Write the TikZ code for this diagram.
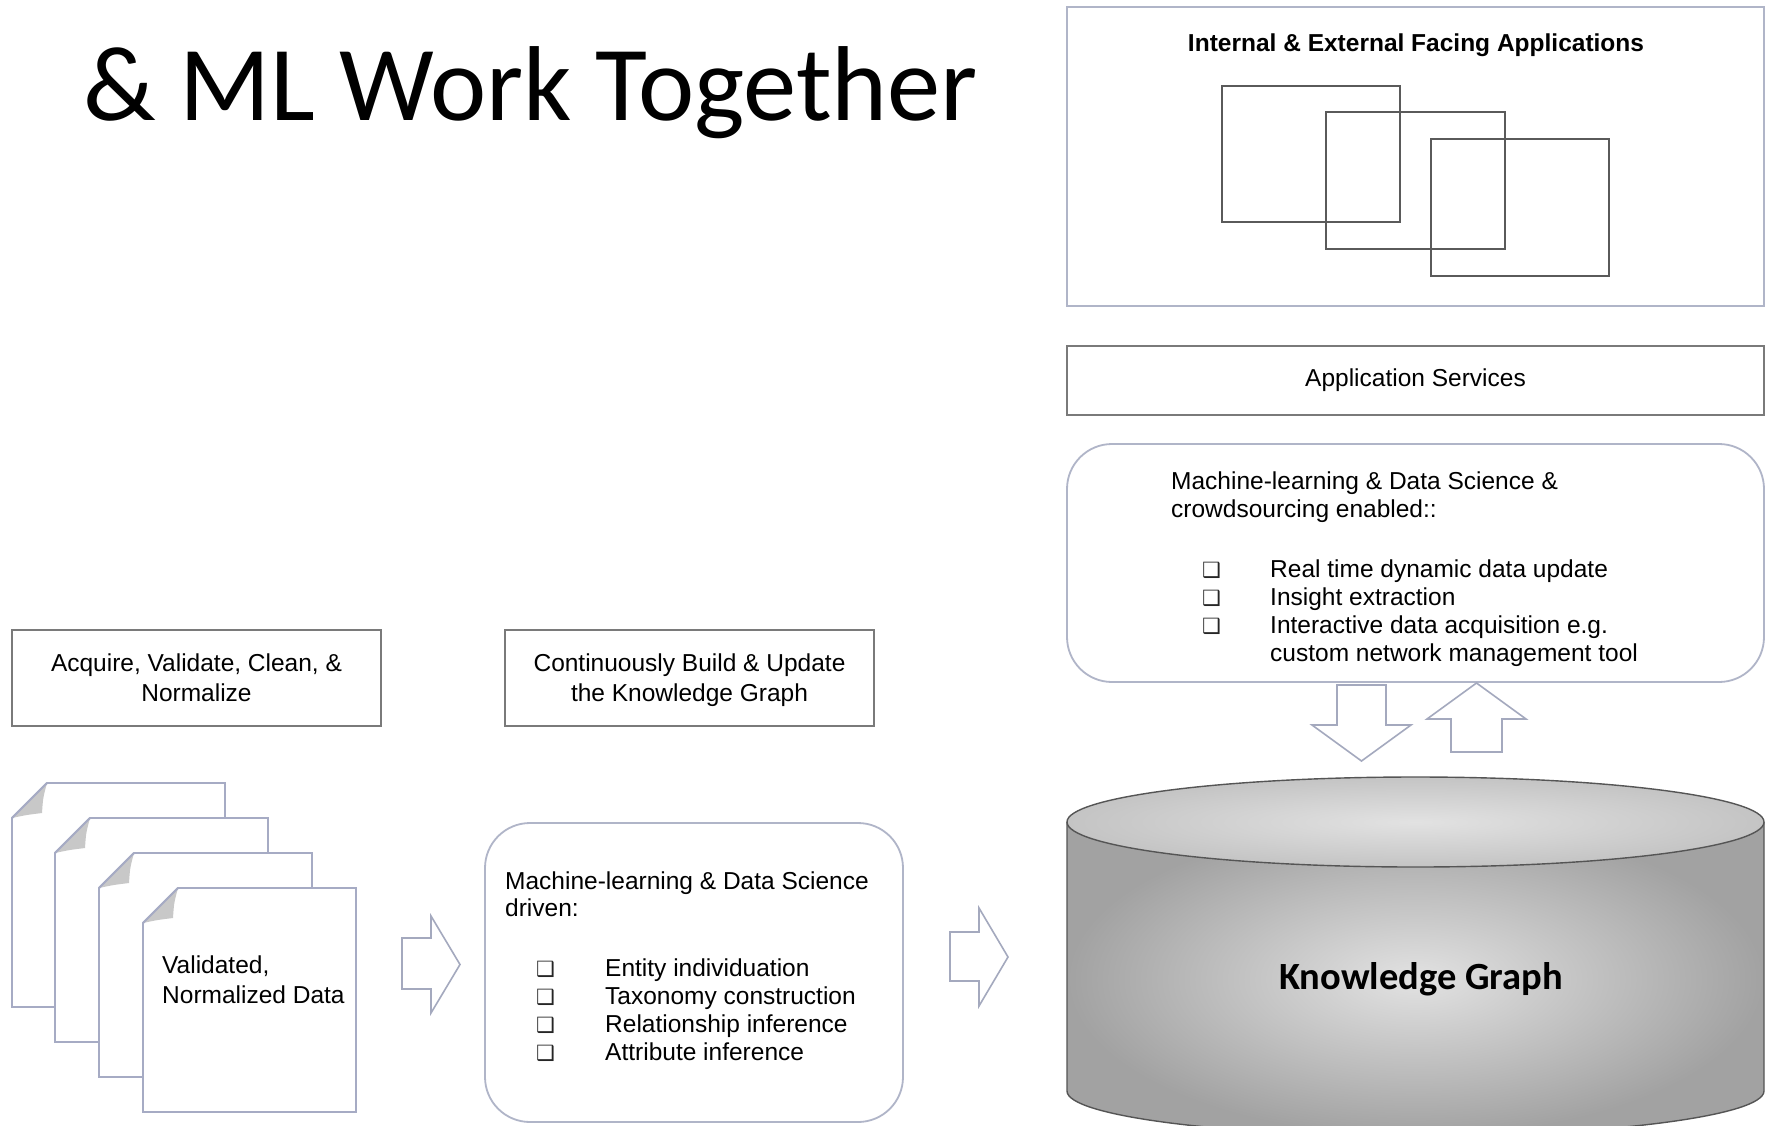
\documentclass[tikz,border=0pt]{standalone}
\usepackage{fontspec}
\setmainfont{Liberation Sans}
\newfontfamily\calfont{Carlito}
\newfontfamily\dvfont{DejaVu Sans}
\definecolor{docline}{HTML}{A6ABC4}
\definecolor{softline}{HTML}{B0B5C8}
\definecolor{arrowline}{HTML}{A4A9BE}
\definecolor{boxgray}{HTML}{7A7A7A}
\definecolor{winline}{HTML}{5A5A5A}
\definecolor{foldgray}{HTML}{C8C8C8}
\definecolor{cylline}{HTML}{555555}
\definecolor{cylin}{HTML}{E2E2E2}
\definecolor{cylout}{HTML}{A2A2A2}
\definecolor{topin}{HTML}{E2E2E2}
\definecolor{topout}{HTML}{C4C4C4}
\newcommand\docsheet[2]{%
  \draw[docpage] (#1,#2+224) -- (#1,#2+35) -- (#1+35,#2) -- (#1+213,#2) -- (#1+213,#2+224) -- cycle;
  \fill[foldgray] (#1,#2+35) .. controls (#1+14,#2+32) .. (#1+30,#2+30) .. controls (#1+31,#2+15) .. (#1+35,#2) -- cycle;
  \draw[docpage,fill=none] (#1,#2+35) -- (#1+35,#2);
}
\begin{document}
\begin{tikzpicture}[x=1pt,y=-1pt,
  txt/.style={font=\fontsize{24.5}{30}\selectfont, inner sep=0pt, text=black},
  line/.style={txt, anchor=base west},
  bul/.style={font=\dvfont\fontsize{21}{24}\selectfont, inner sep=0pt, anchor=base west, text=black!85},
  rectbox/.style={draw=boxgray, line width=1.6pt, fill=white, inner sep=0pt},
  softbox/.style={draw=softline, line width=1.8pt, fill=white, inner sep=0pt},
  roundbox/.style={softbox, rounded corners=45pt},
  blockarrow/.style={draw=arrowline, line width=1.6pt, fill=white, line join=miter},
  docpage/.style={draw=docline, line width=1.8pt, fill=white},
  winrect/.style={draw=winline, line width=2pt, inner sep=0pt}
]
\useasboundingbox (0,0) rectangle (1773,1125);
\fill[white] (0,0) rectangle (1773,1125);

% title
\node[anchor=base west, inner sep=0pt, font=\calfont\fontsize{106.5}{112}\selectfont] (title) at (83,120) {\& ML Work Together};

% applications box
\node[softbox, minimum width=697pt, minimum height=299pt] (apps) at (1415.5,156.5) {};
\node[anchor=base, inner sep=0pt, font=\bfseries\fontsize{24.5}{28}\selectfont] (appstitle) at (1416,51) {Internal \& External Facing Applications};
\node[winrect, minimum width=178pt, minimum height=136pt] (w1) at (1311,154) {};
\node[winrect, minimum width=179pt, minimum height=137pt] (w2) at (1415.5,180.5) {};
\node[winrect, minimum width=178pt, minimum height=137pt] (w3) at (1520,207.5) {};

% application services
\node[rectbox, txt, minimum width=697pt, minimum height=69pt] (svc) at (1415.5,380.5) {Application Services};

% upper ML box
\node[roundbox, minimum width=697pt, minimum height=238pt] (mlup) at (1415.5,563) {};
\node[line] (mlupA) at (1171,489) {Machine-learning \& Data Science \&};
\node[line] (mlupB) at (1171,517) {crowdsourcing enabled::};
\node[bul] (ub1) at (1202,577) {❑};
\node[bul] (ub2) at (1202,605) {❑};
\node[bul] (ub3) at (1202,633) {❑};
\node[line] (ui1) at (1270,577) {Real time dynamic data update};
\node[line] (ui2) at (1270,605) {Insight extraction};
\node[line] (ui3) at (1270,633) {Interactive data acquisition e.g.};
\node[line] (ui3b) at (1270,661) {custom network management tool};

% up/down block arrows
\draw[blockarrow] (1337,685) -- (1386,685) -- (1386,725) -- (1411,725) -- (1361.5,761) -- (1312,725) -- (1337,725) -- cycle;
\draw[blockarrow] (1451,752) -- (1451,719) -- (1427,719) -- (1476.5,683) -- (1526,719) -- (1502,719) -- (1502,752) -- cycle;

% cylinder
\shade[inner color=cylin, outer color=cylout] (1067,822) -- (1067,1091) arc[start angle=180, end angle=360, x radius=348.5pt, y radius=45pt] -- (1764,822) -- cycle;
\draw[cylline, line width=1.4pt] (1067,822) -- (1067,1091) arc[start angle=180, end angle=360, x radius=348.5pt, y radius=45pt] -- (1764,822);
\shadedraw[inner color=topin, outer color=topout, draw=cylline, line width=1.4pt] (1415.5,822) ellipse [x radius=348.5pt, y radius=45pt];
\node[anchor=base, inner sep=0pt, font=\calfont\bfseries\fontsize{38.5}{40}\selectfont] (kg) at (1421,989) {Knowledge Graph};

% left header boxes
\node[rectbox, txt, align=center, minimum width=369pt, minimum height=96pt] (acq) at (196.5,678) {Acquire, Validate, Clean, \&\\Normalize};
\node[rectbox, minimum width=369pt, minimum height=96pt] (build) at (689.5,678) {};
\node[txt, align=center] (buildtxt) at (689.5,680) {Continuously Build \& Update\\the Knowledge Graph};

% documents
\docsheet{12}{783}
\docsheet{55}{818}
\docsheet{99}{853}
\docsheet{143}{888}
\node[line] (data) at (162,973) {Validated,};
\node[line] (data2) at (162,1003) {Normalized Data};

% arrow 1
\draw[blockarrow] (402,938) -- (431,938) -- (431,916) -- (460,964.5) -- (431,1013) -- (431,989) -- (402,989) -- cycle;

% lower ML box
\node[roundbox, minimum width=418pt, minimum height=299pt] (mllow) at (694,972.5) {};
\node[line] (mllowA) at (505,889) {Machine-learning \& Data Science};
\node[line] (mllowB) at (505,916) {driven:};
\node[bul] (lb1) at (536,976) {❑};
\node[bul] (lb2) at (536,1004) {❑};
\node[bul] (lb3) at (536,1032) {❑};
\node[bul] (lb4) at (536,1060) {❑};
\node[line] (li1) at (605,976) {Entity individuation};
\node[line] (li2) at (605,1004) {Taxonomy construction};
\node[line] (li3) at (605,1032) {Relationship inference};
\node[line] (li4) at (605,1060) {Attribute inference};

% arrow 2
\draw[blockarrow] (950,932) -- (979,932) -- (979,908) -- (1008,957) -- (979,1006) -- (979,981) -- (950,981) -- cycle;
\end{tikzpicture}
\end{document}
